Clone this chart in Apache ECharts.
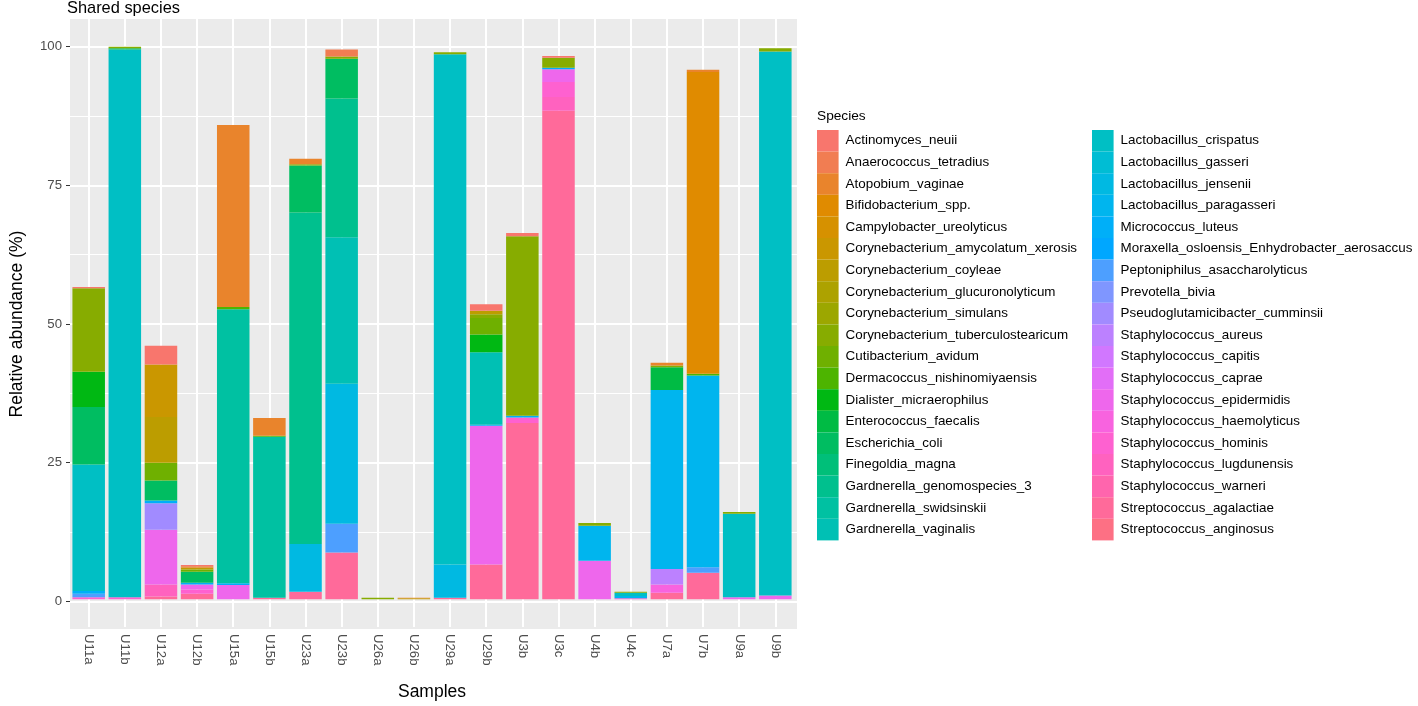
<!DOCTYPE html>
<html>
<head>
<meta charset="utf-8">
<script src="https://cdn.jsdelivr.net/npm/echarts@6/dist/echarts.min.js"></script>
<style>
html,body{margin:0;padding:0;background:#fff;}
#chart{width:1418px;height:706px;}
</style>
</head>
<body>
<div id="chart"></div>
<script>
// ---- DATA ----
const samples = ["U11a","U11b","U12a","U12b","U15a","U15b","U23a","U23b","U26a","U26b","U29a","U29b","U3b","U3c","U4b","U4c","U7a","U7b","U9a","U9b"];
const yTicks = [0, 25, 50, 75, 100];
const yMinorTicks = [12.5, 37.5, 62.5, 87.5];

const species = [
  "Actinomyces_neuii","Anaerococcus_tetradius","Atopobium_vaginae","Bifidobacterium_spp.",
  "Campylobacter_ureolyticus","Corynebacterium_amycolatum_xerosis","Corynebacterium_coyleae",
  "Corynebacterium_glucuronolyticum","Corynebacterium_simulans","Corynebacterium_tuberculostearicum",
  "Cutibacterium_avidum","Dermacoccus_nishinomiyaensis","Dialister_micraerophilus","Enterococcus_faecalis",
  "Escherichia_coli","Finegoldia_magna","Gardnerella_genomospecies_3","Gardnerella_swidsinskii",
  "Gardnerella_vaginalis","Lactobacillus_crispatus","Lactobacillus_gasseri","Lactobacillus_jensenii",
  "Lactobacillus_paragasseri","Micrococcus_luteus","Moraxella_osloensis_Enhydrobacter_aerosaccus",
  "Peptoniphilus_asaccharolyticus","Prevotella_bivia","Pseudoglutamicibacter_cumminsii",
  "Staphylococcus_aureus","Staphylococcus_capitis","Staphylococcus_caprae","Staphylococcus_epidermidis",
  "Staphylococcus_haemolyticus","Staphylococcus_hominis","Staphylococcus_lugdunensis","Staphylococcus_warneri",
  "Streptococcus_agalactiae","Streptococcus_anginosus"
];

// relative abundance (%) per species, in sample order above
const Actinomyces_neuii            = [0.2,0,3.4,0.2,0,0,0,0,0,0,0,1.2,0.6,0.3,0,0,0,0,0,0];
const Anaerococcus_tetradius       = [0,0,0,0,0,0,0,1.3,0,0,0,0,0,0,0,0,0,0,0,0];
const Atopobium_vaginae            = [0,0,0,0.3,32.9,3.2,1.0,0,0,0.1,0,0,0,0,0,0,0.5,0.4,0,0];
const Bifidobacterium_spp          = [0,0,0,0,0,0,0,0,0,0,0,0,0,0,0,0,0,54.6,0,0];
const Campylobacter_ureolyticus    = [0,0,0,0,0,0,0,0,0,0,0,0,0,0,0,0,0,0,0,0];
const Corynebacterium_amycolatum_xerosis = [0,0,9.5,0,0,0,0,0,0,0,0,0,0,0,0,0,0,0,0,0];
const Corynebacterium_coyleae      = [0,0,8.3,0.3,0,0,0,0,0,0.2,0,0.6,0,0,0,0,0,0,0,0];
const Corynebacterium_glucuronolyticum = [0,0,0,0,0,0,0,0,0,0,0,0,0,0,0,0,0,0,0,0];
const Corynebacterium_simulans     = [0,0,0,0,0,0,0,0,0,0,0,0,0,0,0,0,0,0,0,0];
const Corynebacterium_tuberculostearicum = [15.1,0.3,0,0,0,0,0.2,0.4,0.3,0,0.4,0.7,32.5,1.8,0.5,0.2,0.3,0,0.3,0.6];
const Cutibacterium_avidum         = [0,0,3.2,0.4,0,0,0,0,0,0,0,3.0,0,0,0,0,0,0,0,0];
const Dermacoccus_nishinomiyaensis = [0,0,0,0,0.4,0.2,0,0,0,0,0,0,0,0,0,0,0,0.3,0,0];
const Dialister_micraerophilus     = [6.4,0,0,0,0,0,0,0,0,0,0,3.2,0,0,0,0,0,0,0,0];
const Enterococcus_faecalis        = [0,0,0,0,0,0,0,0,0,0,0,0,0,0,0,0,4.1,0,0,0];
const Escherichia_coli             = [10.4,0.2,3.6,2.0,0,0,8.5,7.2,0,0,0,0,0,0,0,0,0,0,0,0];
const Finegoldia_magna             = [0,0,0,0,0,0,0,0,0,0,0,0,0,0,0,0,0,0,0,0];
const Gardnerella_genomospecies_3  = [0,0,0,0,0,0,60.0,25.1,0,0,0,0,0,0,0,0,0,0,0,0];
const Gardnerella_swidsinskii      = [0,0,0,0,49.6,29.1,0,0,0,0,0,0,0,0,0,0,0,0,0,0];
const Gardnerella_vaginalis        = [0,0,0,0,0,0,0,26.5,0,0,0,13.1,0,0,0,0,0,0,0,0];
const Lactobacillus_crispatus      = [22.9,99.1,0,0,0,0,0,0,0,0,92.3,0,0,0,0,0.6,0,0,15.1,98.4];
const Lactobacillus_gasseri        = [0,0,0,0,0,0,0,0,0,0,0,0,0,0,0,0,0,0,0,0];
const Lactobacillus_jensenii       = [0,0,0,0,0,0,8.6,25.3,0,0,6.0,0,0,0,0,0,0,0,0,0];
const Lactobacillus_paragasseri    = [0,0,0,0,0,0,0,0,0,0,0,0,0,0,6.3,0.4,32.4,34.7,0,0];
const Micrococcus_luteus           = [0.5,0,0.5,0.3,0.3,0,0,0,0,0,0,0.2,0.3,0.3,0,0,0,0,0,0];
const Moraxella_osloensis          = [0,0,0,0,0,0,0,0,0,0,0,0,0,0,0,0,0,0,0,0];
const Peptoniphilus_asaccharolyticus = [0.6,0,0,0,0,0,0,5.2,0,0,0,0,0,0,0,0,0,1.0,0,0];
const Prevotella_bivia             = [0,0,0,0,0,0,0,0,0,0,0,0,0,0,0,0,0,0,0,0];
const Pseudoglutamicibacter_cumminsii = [0,0,4.8,0,0,0,0,0,0,0,0,0,0,0,0,0,0,0,0,0];
const Staphylococcus_aureus        = [0,0,0,0,0,0,0,0,0,0,0,0,0,0,0,0,2.8,0,0,0];
const Staphylococcus_capitis       = [0,0,0,0,0,0,0,0,0,0,0,0,0,0,0,0,0,0,0,0];
const Staphylococcus_caprae        = [0,0,0,0,0,0,0,0,0,0,0,0,0,0,0,0,0,0,0,0];
const Staphylococcus_epidermidis   = [0,0,9.9,0.9,2.6,0,0,0,0,0,0,25.1,0,2.3,7.0,0,0,0,0.4,0.7];
const Staphylococcus_haemolyticus  = [0,0,0,0,0,0,0,0,0,0,0,0,0,0,0,0,1.5,0,0,0];
const Staphylococcus_hominis       = [0.4,0.4,0,0.8,0,0,0,0,0,0,0,0,1.0,2.7,0,0.2,0,0,0,0];
const Staphylococcus_lugdunensis   = [0,0,2.2,0,0,0,0,0,0,0,0,0,0,2.5,0,0,0,0,0,0];
const Staphylococcus_warneri       = [0,0,0,0,0,0,0,0,0,0,0,0,0,0,0,0,0,0,0,0];
const Streptococcus_agalactiae     = [0,0,0.5,1.0,0,0.3,1.4,8.5,0,0,0.3,6.3,31.9,88.4,0,0,1.2,4.8,0,0];
const Streptococcus_anginosus      = [0,0,0,0,0,0,0,0,0,0,0,0,0,0,0,0,0,0,0,0];

const speciesValues = [
  Actinomyces_neuii, Anaerococcus_tetradius, Atopobium_vaginae, Bifidobacterium_spp,
  Campylobacter_ureolyticus, Corynebacterium_amycolatum_xerosis, Corynebacterium_coyleae,
  Corynebacterium_glucuronolyticum, Corynebacterium_simulans, Corynebacterium_tuberculostearicum,
  Cutibacterium_avidum, Dermacoccus_nishinomiyaensis, Dialister_micraerophilus, Enterococcus_faecalis,
  Escherichia_coli, Finegoldia_magna, Gardnerella_genomospecies_3, Gardnerella_swidsinskii,
  Gardnerella_vaginalis, Lactobacillus_crispatus, Lactobacillus_gasseri, Lactobacillus_jensenii,
  Lactobacillus_paragasseri, Micrococcus_luteus, Moraxella_osloensis,
  Peptoniphilus_asaccharolyticus, Prevotella_bivia, Pseudoglutamicibacter_cumminsii,
  Staphylococcus_aureus, Staphylococcus_capitis, Staphylococcus_caprae, Staphylococcus_epidermidis,
  Staphylococcus_haemolyticus, Staphylococcus_hominis, Staphylococcus_lugdunensis, Staphylococcus_warneri,
  Streptococcus_agalactiae, Streptococcus_anginosus
];

// ---- ggplot2 default hue palette (HCL, c=100, l=65) ----
function hcl(h, c, l) {
  const hr = h * Math.PI / 180;
  const U = c * Math.cos(hr), V = c * Math.sin(hr);
  const Xn = 95.047, Yn = 100.0, Zn = 108.883;
  const Y = Yn * (l > 7.999592 ? Math.pow((l + 16) / 116, 3) : l / 903.3);
  const den = Xn + 15 * Yn + 3 * Zn;
  const un = 4 * Xn / den, vn = 9 * Yn / den;
  const u = U / (13 * l) + un, v = V / (13 * l) + vn;
  const X = 9 * Y * u / (4 * v);
  const Z = -X / 3 - 5 * Y + 3 * Y / v;
  const lin = [
    ( 3.240479 * X - 1.537150 * Y - 0.498535 * Z) / Yn,
    (-0.969256 * X + 1.875992 * Y + 0.041556 * Z) / Yn,
    ( 0.055648 * X - 0.204043 * Y + 1.057311 * Z) / Yn
  ];
  return '#' + lin.map(x => {
    let g = x <= 0.0031308 ? 12.92 * x : 1.055 * Math.pow(x, 1 / 2.4) - 0.055;
    g = Math.max(0, Math.min(1, g));
    return Math.round(g * 255).toString(16).padStart(2, '0');
  }).join('');
}
const nSp = species.length;
const colors = species.map((s, i) => hcl(15 + i * 360 / nSp, 100, 65));

// ---- CHART ----
const chart = echarts.init(document.getElementById('chart'), null, { renderer: 'canvas' });
const FONT = "'Liberation Sans', Arial, Helvetica, sans-serif";

// panel (ggplot expands discrete axis by 0.6 each side)
const panelLeft = 67, panelWidth = 730, panelTop = 19, panelHeight = 610;
const unit = panelWidth / (samples.length - 1 + 1.2);
const dataLeft = panelLeft + 0.1 * unit;
const dataWidth = unit * samples.length;

const barSeries = [];
for (let k = nSp - 1; k >= 0; k--) {
  barSeries.push({
    name: species[k],
    type: 'bar',
    stack: 'abund',
    xAxisIndex: 1, yAxisIndex: 1,
    barWidth: '90%',
    z: 5,
    itemStyle: { color: colors[k], borderWidth: 0 },
    emphasis: { disabled: true },
    data: speciesValues[k]
  });
}

const gridLineH = yTicks.map(v => ({ yAxis: v, lineStyle: { width: 2 } }))
  .concat(yMinorTicks.map(v => ({ yAxis: v, lineStyle: { width: 1 } })));
const gridLineV = samples.map(s => ({ xAxis: s, lineStyle: { width: 2 } }));

const legendCommon = {
  orient: 'vertical', top: 125,
  itemWidth: 21.6, itemHeight: 21.6, itemGap: 0, icon: 'rect',
  selectedMode: false,
  itemStyle: { borderWidth: 0 },
  textStyle: { fontSize: 13.4, color: '#000', fontFamily: FONT, padding: [0, 0, 0, 2] }
};

const markLineCommon = {
  silent: true, z: 1, symbol: ['none', 'none'], label: { show: false }, animation: false,
  emphasis: { disabled: true },
  lineStyle: { color: '#ffffff', type: 'solid' }
};

const option = {
  animation: false,
  backgroundColor: '#ffffff',
  textStyle: { fontFamily: FONT },
  title: [
    { text: 'Shared species', left: 62, top: -5, textStyle: { fontSize: 16.4, fontWeight: 'normal', color: '#000', fontFamily: FONT } },
    { text: 'Species', left: 812, top: 104, textStyle: { fontSize: 13.7, fontWeight: 'normal', color: '#000', fontFamily: FONT } }
  ],
  grid: [
    { left: panelLeft, width: panelWidth, top: panelTop, height: panelHeight, show: true, backgroundColor: '#EBEBEB', borderWidth: 0 },
    { left: dataLeft, width: dataWidth, top: panelTop, height: panelHeight, show: false }
  ],
  xAxis: [
    { type: 'value', gridIndex: 0, min: 0, max: 1, show: false },
    {
      type: 'category', gridIndex: 1, data: samples, boundaryGap: true,
      axisLine: { show: false },
      axisTick: { show: true, alignWithLabel: true, interval: 0, length: 4, lineStyle: { color: '#333', width: 1 } },
      axisLabel: { interval: 0, rotate: -90, margin: 7, color: '#4D4D4D', fontSize: 13.2, fontFamily: FONT },
      splitLine: { show: false },
      name: 'Samples', nameLocation: 'middle', nameGap: 56,
      nameTextStyle: { fontSize: 17.5, color: '#000', fontFamily: FONT }
    }
  ],
  yAxis: [
    {
      type: 'value', gridIndex: 0, min: -5, max: 105,
      axisLine: { show: false },
      axisTick: { show: true, length: 4, customValues: yTicks, lineStyle: { color: '#333', width: 1 } },
      axisLabel: { customValues: yTicks, margin: 8, color: '#4D4D4D', fontSize: 13.2, fontFamily: FONT },
      splitLine: { show: false },
      name: 'Relative abundance (%)', nameLocation: 'middle', nameGap: 44,
      nameTextStyle: { fontSize: 17.5, color: '#000', fontFamily: FONT }
    },
    { type: 'value', gridIndex: 1, min: -5, max: 105, show: false }
  ],
  legend: [
    Object.assign({}, legendCommon, { data: species.slice(0, 19), left: 812 }),
    Object.assign({}, legendCommon, { data: species.slice(19), left: 1087 })
  ],
  series: [
    {
      type: 'line', xAxisIndex: 0, yAxisIndex: 0, data: [], z: 1, silent: true,
      markLine: Object.assign({}, markLineCommon, { data: gridLineH })
    },
    {
      type: 'line', xAxisIndex: 1, yAxisIndex: 1, data: [], z: 1, silent: true,
      markLine: Object.assign({}, markLineCommon, { data: gridLineV })
    }
  ].concat(barSeries)
};
chart.setOption(option);
</script>
</body>
</html>
